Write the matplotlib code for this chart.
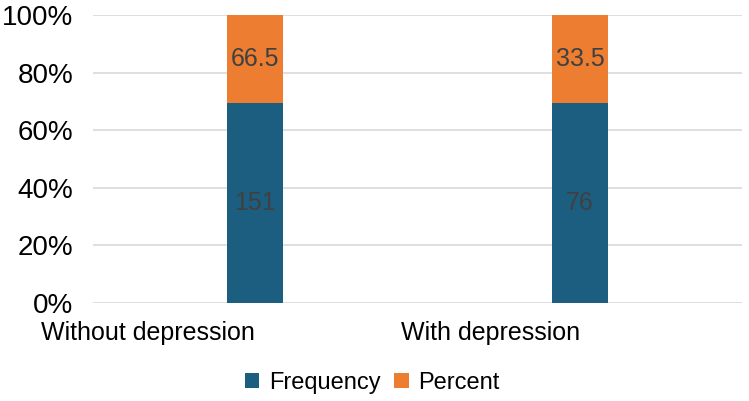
import matplotlib.pyplot as plt
from matplotlib.ticker import PercentFormatter

plt.rcParams['font.family'] = ['Liberation Sans', 'DejaVu Sans']

categories = ['Without depression', 'With depression']
frequency = [151, 76]
percent = [66.5, 33.5]

blue = '#1B5E80'
orange = '#ED7D31'

# 100% stacked: share of each series in its category
totals = [f + p for f, p in zip(frequency, percent)]
freq_share = [f / t * 100 for f, t in zip(frequency, totals)]
perc_share = [p / t * 100 for p, t in zip(percent, totals)]

fig = plt.figure(figsize=(7.49, 4.01), dpi=100)
ax = fig.add_axes([0.124, 0.244, 0.867, 0.719])

x = range(len(categories))
b1 = ax.bar(x, freq_share, width=0.173, color=blue, label='Frequency', zorder=2)
b2 = ax.bar(x, perc_share, width=0.173, bottom=freq_share, color=orange,
            label='Percent', zorder=2)

ax.bar_label(b1, labels=[str(v) for v in frequency], label_type='center',
             color='#404040', fontsize=18)
ax.bar_label(b2, labels=[str(v) for v in percent], label_type='center',
             color='#404040', fontsize=18)

ax.set_xlim(-0.5, 1.5)
ax.set_ylim(0, 100)
ax.set_yticks([0, 20, 40, 60, 80, 100])
ax.yaxis.set_major_formatter(PercentFormatter(decimals=0))
ax.set_xticks(list(x))
ax.set_xticklabels(categories, ha='right')
ax.tick_params(axis='both', length=0, colors='black')
ax.tick_params(axis='y', pad=14, labelsize=20)
ax.tick_params(axis='x', pad=13, labelsize=18)

ax.grid(axis='y', color='#D9D9D9', linewidth=1.2, zorder=0)
for s in ax.spines.values():
    s.set_visible(False)

fig.legend(handles=[b1, b2], loc='center', bbox_to_anchor=(0.497, 0.045),
           ncol=2, frameon=False, fontsize=17, handlelength=0.6,
           handleheight=0.6, handletextpad=0.4, columnspacing=0.6)

plt.savefig('out.png', dpi=100)
